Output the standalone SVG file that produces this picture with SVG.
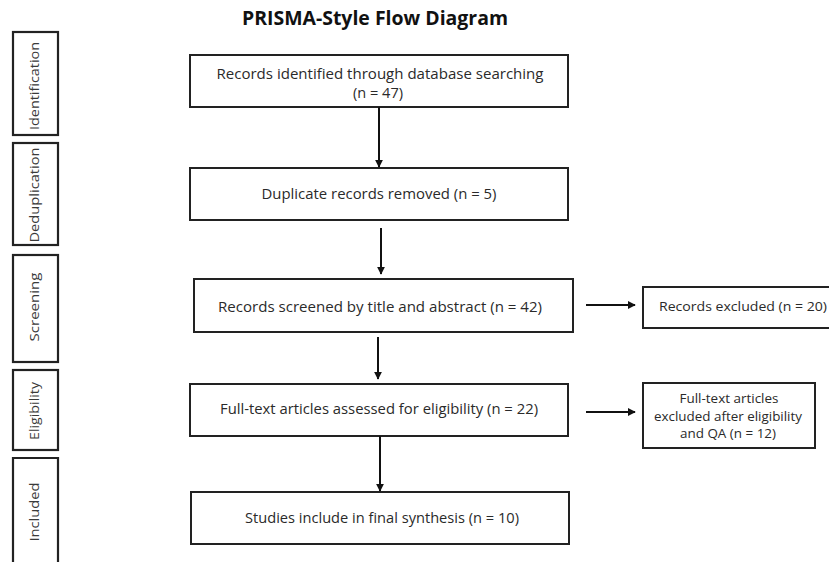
<svg xmlns="http://www.w3.org/2000/svg" width="829" height="562" viewBox="0 0 829 562">
<defs>
<marker id="ah" viewBox="0 0 10 10" refX="9" refY="5" markerWidth="4" markerHeight="4" orient="auto" markerUnits="strokeWidth">
<path d="M0,0 L10,5 L0,10 z" fill="#111"/>
</marker>
<style>
.box{fill:#fff;stroke:#222;stroke-width:2}
.side{fill:#fff;stroke:#222;stroke-width:2.2}
.t{font-family:"Open Sans","Liberation Sans",sans-serif;font-size:14px;fill:#2a2a2a;text-anchor:middle}
.s{font-family:"Open Sans","Liberation Sans",sans-serif;font-size:12.5px;fill:#2a2a2a;text-anchor:middle}
.lbl{font-family:"Open Sans","Liberation Sans",sans-serif;font-size:13px;fill:#3a3a3a;text-anchor:middle}
.title{font-family:"Open Sans","Liberation Sans",sans-serif;font-size:19px;font-weight:bold;fill:#111;text-anchor:middle}
.c{stroke:#111;stroke-width:2;fill:none;marker-end:url(#ah)}
</style>
</defs>
<rect width="829" height="562" fill="#fff"/>
<text class="title" x="375" y="25" textLength="266" lengthAdjust="spacingAndGlyphs">PRISMA-Style Flow Diagram</text>

<g id="stage-identification">
<rect class="side" x="13" y="32" width="45" height="103"/>
<text class="lbl" transform="translate(39,86) rotate(-90)" textLength="88" lengthAdjust="spacingAndGlyphs">Identification</text>
</g>
<g id="stage-deduplication">
<rect class="side" x="13" y="143" width="45" height="102"/>
<text class="lbl" transform="translate(39,195) rotate(-90)" textLength="95" lengthAdjust="spacingAndGlyphs">Deduplication</text>
</g>
<g id="stage-screening">
<rect class="side" x="13" y="255" width="45" height="107"/>
<text class="lbl" transform="translate(39,307) rotate(-90)" textLength="69" lengthAdjust="spacingAndGlyphs">Screening</text>
</g>
<g id="stage-eligibility">
<rect class="side" x="13" y="370" width="45" height="80"/>
<text class="lbl" transform="translate(39,411) rotate(-90)" textLength="58" lengthAdjust="spacingAndGlyphs">Eligibility</text>
</g>
<g id="stage-included">
<path class="side" d="M13,564 V458 H58 V564"/>
<text class="lbl" transform="translate(39,512) rotate(-90)" textLength="59" lengthAdjust="spacingAndGlyphs">Included</text>
</g>

<g id="n1">
<rect class="box" x="190" y="55" width="378" height="52"/>
<text class="t" x="380" y="79" textLength="327" lengthAdjust="spacingAndGlyphs">Records identified through  database searching</text>
<text class="t" x="378" y="98" textLength="50" lengthAdjust="spacingAndGlyphs">(n = 47)</text>
</g>
<g id="n2">
<rect class="box" x="190" y="168" width="378" height="52"/>
<text class="t" x="379" y="199" textLength="235" lengthAdjust="spacingAndGlyphs">Duplicate records removed (n = 5)</text>
</g>
<g id="n3">
<rect class="box" x="194" y="279" width="379" height="53"/>
<text class="t" x="380" y="312" textLength="324" lengthAdjust="spacingAndGlyphs">Records screened by title and abstract (n = 42)</text>
</g>
<g id="n4">
<rect class="box" x="190" y="384" width="378" height="52"/>
<text class="t" x="379" y="414" textLength="318" lengthAdjust="spacingAndGlyphs">Full-text articles assessed for eligibility (n = 22)</text>
</g>
<g id="n5">
<rect class="box" x="191" y="492" width="378" height="52"/>
<text class="t" x="382" y="523" textLength="274" lengthAdjust="spacingAndGlyphs">Studies include in final synthesis (n = 10)</text>
</g>
<g id="x1">
<rect class="box" x="643" y="287" width="192" height="41"/>
<text class="s" x="743" y="311" textLength="168" lengthAdjust="spacingAndGlyphs">Records  excluded (n = 20)</text>
</g>
<g id="x2">
<rect class="box" x="643" y="383" width="172" height="65"/>
<text class="s" x="729" y="403" textLength="99" lengthAdjust="spacingAndGlyphs">Full-text articles</text>
<text class="s" x="728" y="421" textLength="148" lengthAdjust="spacingAndGlyphs">excluded after eligibility</text>
<text class="s" x="728" y="438" textLength="96" lengthAdjust="spacingAndGlyphs">and QA (n = 12)</text>
</g>

<g id="connectors">
<line class="c" x1="379" y1="107" x2="379" y2="167"/>
<line class="c" x1="381" y1="228" x2="381" y2="274"/>
<line class="c" x1="378" y1="337" x2="378" y2="379"/>
<line class="c" x1="380" y1="436" x2="380" y2="491"/>
<line class="c" x1="586" y1="305" x2="635" y2="305"/>
<line class="c" x1="586" y1="412" x2="635" y2="412"/>
</g>
</svg>
